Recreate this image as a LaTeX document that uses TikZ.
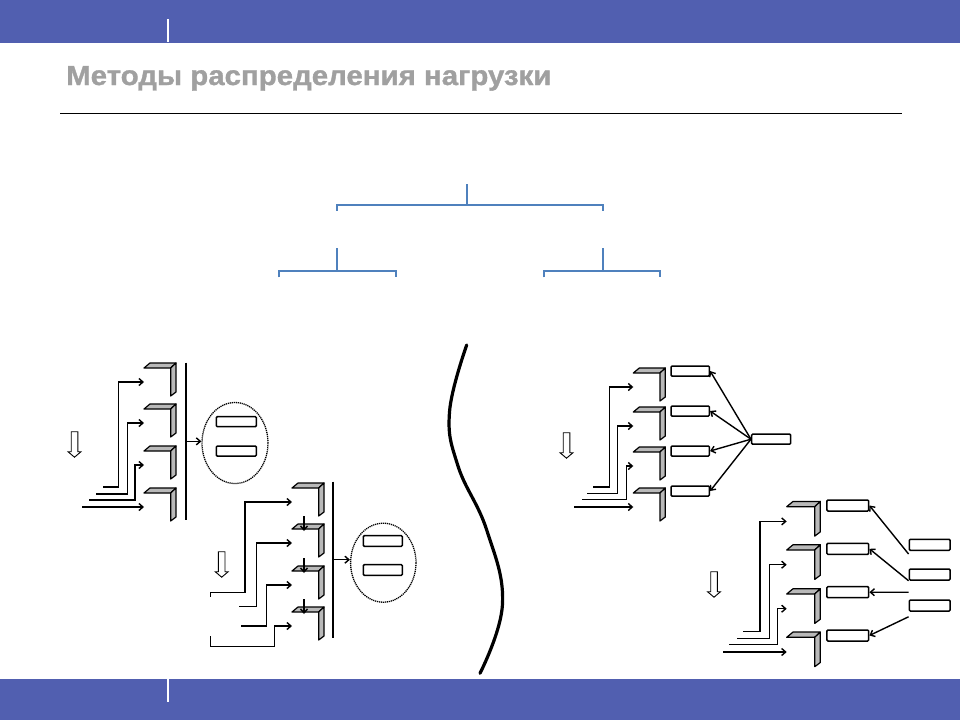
\documentclass[tikz,border=0pt]{standalone}
\usepackage{fontspec}
\setmainfont{Liberation Sans}
\newfontfamily\titlefont[FakeStretch=1.07, FakeBold=1.2]{Liberation Sans Bold}
\usetikzlibrary{shapes.geometric,arrows.meta}
\definecolor{band}{RGB}{81,95,176}
\definecolor{treeblue}{RGB}{79,129,189}
\definecolor{titlegray}{RGB}{160,160,160}
\begin{document}
\begin{tikzpicture}[x=1pt, y=-1pt, >={Straight Barb[length=4pt,width=7pt]},
    profile/.pic={
      \draw[face] (0,0) -- (6,-5) -- (32,-5) -- (26.7,0) -- cycle;
      \draw[face] (26.7,0) -- (32,-5) -- (32,24) -- (26.7,28) -- cycle;
      \coordinate (-in) at (0,14);
      \coordinate (-top) at (12,2);
      \coordinate (-above) at (12,-13);
    },
    downarrow/.pic={
      \draw[line width=0.9pt, fill=white] (-3.3,0) -- (3.3,0) -- (3.3,20) -- (6.5,20)
        -- (0,25.5) -- (-6.5,20) -- (-3.3,20) -- cycle;
    }]
  \tikzstyle{face} = [draw=black, line width=1.2pt, fill=gray!55, line join=round]
  \tikzstyle{feed} = [line width=1.4pt]
  \tikzstyle{bus} = [line width=1.6pt]
  \tikzstyle{cell} = [draw, line width=1.5pt, rounded corners=1pt, minimum width=40pt,
                      minimum height=10pt, inner sep=0pt]
  \tikzstyle{pool} = [draw, ellipse, line width=1.3pt, dash pattern=on 1.2pt off 0.8pt, inner sep=0pt]
  \tikzstyle{branch} = [draw=treeblue, line width=2pt]

  \fill[white] (0,0) rectangle (960,720);
  \fill[band] (0,0) rectangle (960,43.3);
  \fill[band] (0,679.3) rectangle (960,720);
  \draw[white, line width=1.5pt] (168,19.3) -- (168,41.7);
  \draw[white, line width=1.5pt] (168,679.3) -- (168,701.7);

  \node[anchor=base west, inner sep=0pt, text=titlegray, font=\titlefont\fontsize{27.5}{32}\selectfont]
    (title) at (66,85) {Методы распределения нагрузки};
  \draw[line width=1.3pt] (60,113.3) -- (902,113.3);

  \coordinate (root) at (466.7,184.3);
  \coordinate (lnode) at (337.3,248.3);
  \coordinate (rnode) at (602.7,248.3);
  \draw[branch] (root) -- (466.7,205);
  \draw[branch] (337.3,210.7) -- (337.3,205) -- (602.7,205) -- (602.7,210.7);
  \draw[branch] (lnode) -- (337.3,270.7);
  \draw[branch] (279,277.3) -- (279,270.7) -- (395.7,270.7) -- (395.7,277.3);
  \draw[branch] (rnode) -- (602.7,270.7);
  \draw[branch] (544.3,277.3) -- (544.3,270.7) -- (660,270.7) -- (660,277.3);

  \foreach \i/\y in {1/368,2/409,3/451,4/493}
    \pic (a\i) at (144,\y) {profile};
  \draw[bus] (185.7,362.7) -- coordinate (busa) (185.7,520);
  \node[pool, minimum width=66pt, minimum height=81pt] (pa) at (235,443) {};
  \node[cell] (pa1) at (236.3,421.7) {};
  \node[cell] (pa2) at (236.3,451) {};
  \draw[feed,->] (busa) -- (busa -| pa.west);
  \draw[feed,<-] (a1-in) -| ++(-25.7,105) -- ++(-15.6,0);
  \draw[feed,<-] (a2-in) -| ++(-16.3,71) -- ++(-32,0);
  \draw[feed,<-] (a3-in) -| ++(-9,35) -- ++(-45.7,0);
  \draw[feed,<-] (a4-in) -- ++(-61.7,0);
  \pic at (74.5,431.7) {downarrow};

  \foreach \i/\y in {1/488,2/529,3/571,4/612}
    \pic (b\i) at (292,\y) {profile};
  \draw[bus] (332.7,481.7) -- coordinate (busb) (332.7,637.7);
  \node[pool, minimum width=65.4pt, minimum height=79pt] (pb) at (383.3,562.7) {};
  \node[cell, minimum width=39pt, minimum height=10.6pt] (pb1) at (382.8,541) {};
  \node[cell, minimum width=39pt, minimum height=10.6pt] (pb2) at (382.8,570) {};
  \draw[feed,->] (busb) -- (busb -| pb.west);
  \draw[feed,<-] (b1-in) -| ++(-47,90.7) -- ++(-34.3,0) -- ++(0,4);
  \draw[feed,<-] (b2-in) -| ++(-35.3,63.7) -- ++(-17.4,0);
  \draw[feed,<-] (b3-in) -| ++(-25.3,41) -- ++(-26,0);
  \draw[feed,<-] (b4-in) -| ++(-17.7,20.7) -- ++(-63.6,0) -- ++(0,-11);
  \foreach \i in {2,3,4}
    \draw[feed,->] (b\i-above) -- (b\i-top);
  \pic at (221.7,551.7) {downarrow};

  \draw[line width=3.2pt, line cap=round] plot[smooth, tension=0.7]
    coordinates {(466.7,345) (449.5,412) (458,466) (486.7,530) (502.5,604) (480,673.3)};

  \foreach \i/\y in {1/373,2/412,3/452,4/493}
    \pic (c\i) at (633.3,\y) {profile};
  \foreach \i/\y in {1/371,2/411,3/451,4/491}
    \node[cell, minimum width=38.3pt] (cr\i) at (690.2,\y) {};
  \node[cell, minimum width=39pt] (hub) at (771.2,439.2) {};
  \foreach \i in {1,...,4}
    \draw[feed,->] (hub.west) -- (cr\i.east);
  \draw[feed,<-] (c1-in) -| ++(-24,100) -- ++(-16,0);
  \draw[feed,<-] (c2-in) -| ++(-15.6,67.3) -- ++(-30.4,0);
  \draw[feed,<-] (c3-in) -| ++(-6.6,33.3) -- ++(-45,0);
  \draw[feed,<-] (c4-in) -- ++(-59,0);
  \pic at (566.5,432.7) {downarrow};

  \foreach \i/\y in {1/506.7,2/550,3/594,4/637.3}
    \pic[scale=1.05] (d\i) at (786.7,\y) {profile};
  \foreach \i/\y in {1/505.5,2/548.8,3/592.2,4/635.5}
    \node[cell, minimum width=41.7pt, minimum height=11pt] (dr\i) at (847.8,\y) {};
  \foreach \i/\y in {1/544.8,2/574.5,3/605.5}
    \node[cell, minimum width=40.7pt, minimum height=11pt] (ds\i) at (929.7,\y) {};
  \draw[feed,->] ([yshift=-3pt]ds1.south west) -- (dr1.east);
  \draw[feed,->] (ds2.south west) -- (dr2.east);
  \draw[feed,->] ([yshift=7pt]ds3.north west) -- (dr3.east);
  \draw[feed,->] ([yshift=-5pt]ds3.south west) -- (dr4.east);
  \draw[feed,<-] (d1-in) -| ++(-26.7,110.3) -- ++(-17.3,0);
  \draw[feed,<-] (d2-in) -| ++(-17.4,73.6) -- ++(-32.6,0);
  \draw[feed,<-] (d3-in) -| ++(-9,35.6) -- ++(-48.4,0);
  \draw[feed,<-] (d4-in) -- ++(-64,0);
  \pic at (714,571.7) {downarrow};
\end{tikzpicture}
\end{document}
